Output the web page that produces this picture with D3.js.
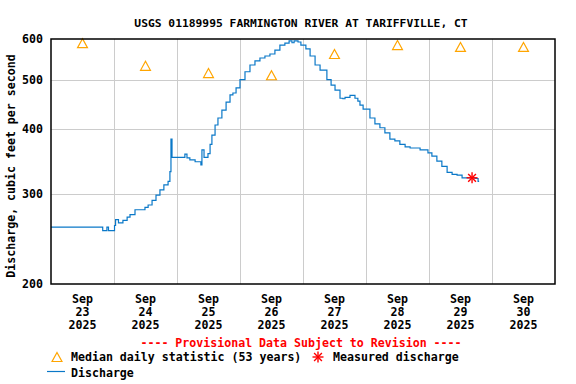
<meta charset="utf-8" />
<style>body { margin: 0; }</style>
<svg width="576" height="384"></svg>
<script src="https://cdn.jsdelivr.net/npm/d3@7"></script>
<script>
	// hours after 2025-09-23 00:00 and discharge (cfs)
	var hours = [0, 19.7, 21.3, 21.9, 24.2, 24.6, 25.7, 27.4, 29.0, 30.1, 32.0, 35.8, 37.0, 38.5, 40.0, 41.5, 43.0, 44.6, 45.3, 45.7, 46.1,
		50.3, 51.0, 51.8, 52.9, 54.9, 57.1, 57.5, 58.3, 59.8, 60.6, 61.3, 62.5, 63.6, 65.1, 66.7, 68.2, 69.3, 70.5, 72.0,
		73.9, 75.8, 77.7, 79.6, 81.5, 83.4, 85.3, 87.2, 89.1, 90.7, 91.8, 92.6, 94.1, 95.2, 97.1, 98.7, 100.6, 102.5,
		105.1, 106.7, 108.2, 110.1, 111.2, 112.0, 113.9, 115.8, 116.9, 117.7, 118.9, 121.5, 123.4, 125.3, 127.2, 129.1,
		131.0, 132.9, 134.9, 136.8, 140.6, 142.5, 143.6, 145.1, 147.0, 148.9, 150.9, 152.8, 154.7, 156.6, 159.6, 161.5, 162.7, 163.1];
	var discharge = [258, 254, 258, 254, 260, 267, 263, 266, 270, 273, 279, 282, 285, 291, 298, 305, 312, 317, 331, 383, 353,
		353, 358, 352, 349, 346, 341, 365, 353, 359, 374, 390, 408, 421, 436, 452, 467, 471, 482, 500,
		518, 534, 544, 551, 556, 561, 571, 584, 589, 595, 590, 595, 592, 584, 574, 556, 534, 522,
		500, 488, 477, 460, 459, 462, 466, 460, 454, 446, 438, 421, 410, 403, 394, 383,
		380, 374, 370, 368, 365, 365, 360, 355, 347, 339, 330, 327, 326, 322, 322, 321, 317, 317];

	var days = [23, 24, 25, 26, 27, 28, 29, 30];
	var medians = [589, 532, 515, 510, 561, 584, 579, 579];
	var measured = [{ hour: 160.4, value: 322 }];
	var yTicks = [200, 300, 400, 500, 600];

	var start = new Date(2025, 8, 23);
	function toDate(h) { return new Date(start.getTime() + h * 3600e3); }
	function noon(d) { return toDate((d - 23) * 24 + 12); }

	var svg = d3.select('svg'),
		font = 'DejaVu Sans Mono, monospace',
		mLeft = 51, mRight = 555, mTop = 39, mBottom = 284;

	var x = d3.scaleTime().domain([start, new Date(2025, 9, 1)]).range([mLeft, mRight]);
	var y = d3.scaleLog().domain([200, 600]).range([mBottom, mTop]);

	svg.append('rect').attr('width', 576).attr('height', 384).attr('fill', '#fff');

	// grid
	var grid = svg.append('g').attr('stroke', '#cccccc').attr('stroke-width', 1);
	grid.selectAll('.gx')
		.data(days.slice(1))
		.enter().append('line')
		.attr('x1', d => Math.round(x(new Date(2025, 8, d))) + 0.5)
		.attr('x2', d => Math.round(x(new Date(2025, 8, d))) + 0.5)
		.attr('y1', mTop).attr('y2', mBottom);
	grid.selectAll('.gy')
		.data(yTicks.slice(1, -1))
		.enter().append('line')
		.attr('x1', mLeft).attr('x2', mRight)
		.attr('y1', d => Math.round(y(d)) + 0.5)
		.attr('y2', d => Math.round(y(d)) + 0.5);

	// discharge
	var pts = hours.map((h, i) => ({ t: toDate(h), v: discharge[i] }));
	var line = d3.line().x(d => x(d.t)).y(d => y(d.v)).curve(d3.curveStepAfter);
	svg.append('path').datum(pts)
		.attr('d', line).attr('fill', 'none')
		.attr('stroke', '#0a78c8').attr('stroke-width', 1.2);

	// median triangles
	function tri(cx, cy, s) {
		return 'M' + cx + ',' + (cy - s * 0.5) + 'L' + (cx + s * 0.55) + ',' + (cy + s * 0.5) + 'L' + (cx - s * 0.55) + ',' + (cy + s * 0.5) + 'Z';
	}
	svg.selectAll('.med')
		.data(days)
		.enter().append('path')
		.attr('d', (d, i) => tri(x(noon(d)), y(medians[i]), 9))
		.attr('fill', 'none').attr('stroke', '#ffa500').attr('stroke-width', 1.2);

	// measured asterisk
	function star(g, cx, cy, r) {
		for (var k = 0; k < 4; k++) {
			var a = k * Math.PI / 4;
			g.append('line')
				.attr('x1', cx - r * Math.cos(a)).attr('y1', cy - r * Math.sin(a))
				.attr('x2', cx + r * Math.cos(a)).attr('y2', cy + r * Math.sin(a))
				.attr('stroke', '#ff0000').attr('stroke-width', 1.4);
		}
	}
	measured.forEach(m => star(svg, x(toDate(m.hour)), y(m.value), 5.5));

	// frame
	svg.append('rect')
		.attr('x', mLeft).attr('y', mTop)
		.attr('width', mRight - mLeft).attr('height', mBottom - mTop)
		.attr('fill', 'none').attr('stroke', '#000').attr('stroke-width', 1.5);

	var txt = svg.append('g').attr('font-family', font).attr('font-size', 11.6).attr('font-weight', 'bold');

	txt.append('text').attr('x', 301).attr('y', 27).attr('text-anchor', 'middle')
		.attr('font-size', 11.3)
		.text('USGS 01189995 FARMINGTON RIVER AT TARIFFVILLE, CT');

	txt.selectAll('.yl')
		.data(yTicks)
		.enter().append('text')
		.attr('x', 43).attr('y', d => y(d) + 4).attr('text-anchor', 'end')
		.text(d => d);

	txt.append('text')
		.attr('transform', 'translate(15,166) rotate(-90)')
		.attr('text-anchor', 'middle')
		.text('Discharge, cubic feet per second');

	var xl = txt.selectAll('.xl')
		.data(days)
		.enter().append('text')
		.attr('text-anchor', 'middle');
	xl.append('tspan').attr('y', 303).attr('x', d => x(noon(d))).text('Sep');
	xl.append('tspan').attr('y', 316).attr('x', d => x(noon(d))).text(d => d);
	xl.append('tspan').attr('y', 329).attr('x', d => x(noon(d))).text('2025');

	// legend
	txt.append('text').attr('x', 301).attr('y', 347).attr('text-anchor', 'middle')
		.attr('fill', '#ff0000')
		.text('---- Provisional Data Subject to Revision ----');
	svg.append('path').attr('d', tri(57, 357, 9))
		.attr('fill', 'none').attr('stroke', '#ffa500').attr('stroke-width', 1.2);
	txt.append('text').attr('x', 71).attr('y', 361).text('Median daily statistic (53 years)');
	star(svg, 318, 357, 5.5);
	txt.append('text').attr('x', 333).attr('y', 361).text('Measured discharge');
	svg.append('line').attr('x1', 47).attr('x2', 65).attr('y1', 371.5).attr('y2', 371.5)
		.attr('stroke', '#0a78c8').attr('stroke-width', 1.2);
	txt.append('text').attr('x', 71).attr('y', 377).text('Discharge');
</script>
